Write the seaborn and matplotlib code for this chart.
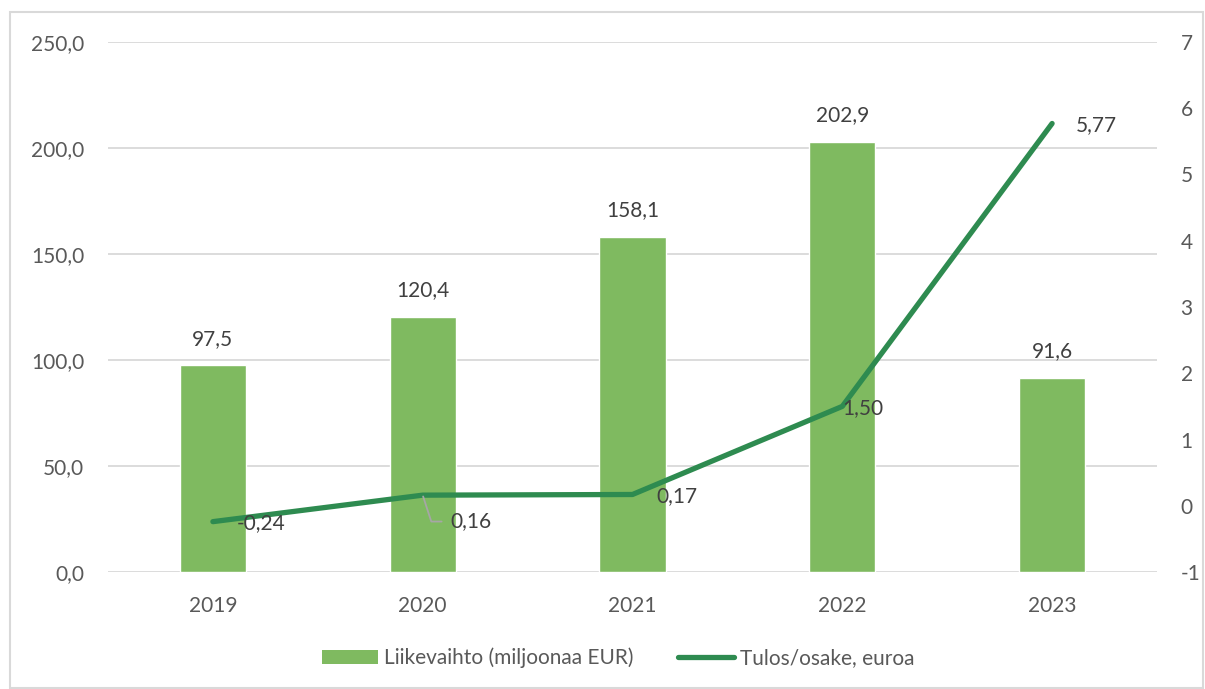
import matplotlib
matplotlib.use("Agg")
import matplotlib.pyplot as plt
import seaborn as sns
import pandas as pd
import numpy as np
from matplotlib.patches import Rectangle, Patch
from matplotlib.lines import Line2D

years = ["2019", "2020", "2021", "2022", "2023"]
revenue = [97.5, 120.4, 158.1, 202.9, 91.6]
eps = [-0.24, 0.16, 0.17, 1.50, 5.77]
left_ticks = [0, 50, 100, 150, 200, 250]
right_ticks = [-1, 0, 1, 2, 3, 4, 5, 6, 7]

BAR_C = "#7FBA60"
LINE_C = "#2E8B50"
TXT = "#595959"
LBL = "#404040"
GRID = "#D9D9D9"
FS = 15

sns.set_theme(style="white")
plt.rcParams["font.family"] = ["Lato", "DejaVu Sans"]
plt.rcParams["axes.unicode_minus"] = False

fig = plt.figure(figsize=(12.05, 6.89), dpi=100)
fig.patches.append(Rectangle((10/1205, 1/689), 1193/1205, 676/689, transform=fig.transFigure,
                             fill=False, edgecolor=GRID, linewidth=1.5))
ax = fig.add_axes([108/1205, 1-572/689, 1049/1205, 530/689])

df = pd.DataFrame({"year": years, "rev": revenue, "eps": eps})
sns.barplot(data=df, x="year", y="rev", color=BAR_C, saturation=1, width=0.315, ax=ax, zorder=2)
ax.set_ylim(0, 250)
ax.set_yticks(left_ticks)
ax.set_yticklabels([f"{v:.1f}".replace(".", ",") for v in left_ticks])
ax.set_xlim(-0.5, 4.5)
ax.grid(axis="y", color=GRID, linewidth=1.3, zorder=0)
ax.set_axisbelow(True)
for s in ax.spines.values():
    s.set_visible(False)
ax.set_xlabel("")
ax.set_ylabel("")
ax.tick_params(axis="both", length=0, labelsize=FS, colors=TXT)
ax.tick_params(axis="y", pad=17)
ax.tick_params(axis="x", pad=17)

for i, v in enumerate(revenue):
    ax.annotate(f"{v:.1f}".replace(".", ","), (i, v), xytext=(0, 12), textcoords="offset points",
                ha="center", va="bottom", fontsize=FS, color=LBL)

ax2 = ax.twinx()
sns.lineplot(data=df, x="year", y="eps", color=LINE_C, linewidth=3.8, sort=False, ax=ax2, zorder=3,
             solid_capstyle="round")
ax2.set_ylim(-1, 7)
ax2.set_yticks(right_ticks)
ax2.set_xlim(-0.5, 4.5)
for s in ax2.spines.values():
    s.set_visible(False)
ax2.set_ylabel("")
ax2.set_xlabel("")
ax2.tick_params(axis="both", length=0, labelsize=FS, colors=TXT)
ax2.tick_params(axis="y", pad=17)

offsets = [(17, -1), (None, None), (17, -1), (0, -1), (17, -1)]
for i, v in enumerate(eps):
    txt = f"{v:.2f}".replace(".", ",")
    if i == 1:
        ax2.annotate(txt, (i, v), xytext=(20, -19), textcoords="offset points",
                     ha="left", va="center", fontsize=FS, color=LBL,
                     arrowprops=dict(arrowstyle="-", color="#A6A6A6", lw=1.3,
                                     shrinkA=4, shrinkB=1,
                                     connectionstyle="angle,angleA=0,angleB=-72,rad=0"))
    else:
        dx, dy = offsets[i]
        ax2.annotate(txt, (i, v), xytext=(dx, dy), textcoords="offset points",
                     ha="left", va="center", fontsize=FS, color=LBL)

handles = [Patch(facecolor=BAR_C, edgecolor="none"),
           Line2D([0], [0], color=LINE_C, linewidth=3.8, solid_capstyle="round")]
fig.legend(handles, ["Liikevaihto (miljoonaa EUR)", "Tulos/osake, euroa"],
           loc="center", bbox_to_anchor=(0.513, 1-658/689), ncol=2, frameon=False,
           fontsize=FS, labelcolor=TXT, handlelength=2.7, handleheight=0.7,
           columnspacing=2.1, handletextpad=0.3)

fig.savefig("out.png", dpi=100)
